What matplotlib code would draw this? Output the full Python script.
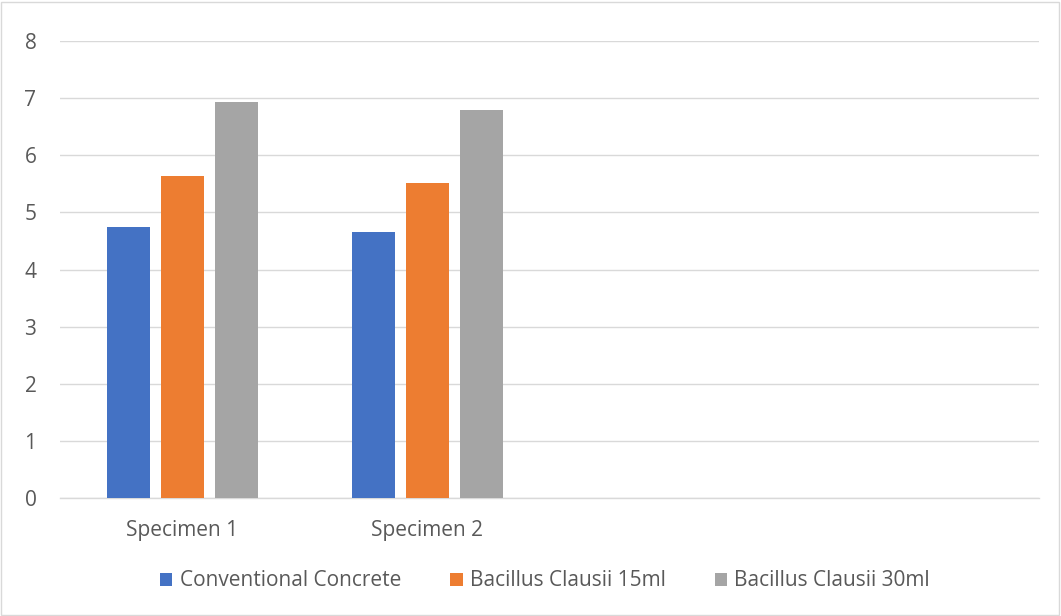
import matplotlib
matplotlib.use("Agg")
import matplotlib.pyplot as plt
import numpy as np
from matplotlib.patches import Rectangle

categories = ["Specimen 1", "Specimen 2", "", ""]
series_names = ["Conventional Concrete", "Bacillus Clausii 15ml", "Bacillus Clausii 30ml"]
conventional = [4.75, 4.66, None, None]
clausii_15 = [5.64, 5.51, None, None]
clausii_30 = [6.93, 6.80, None, None]
colors = ["#4472C4", "#ED7D31", "#A5A5A5"]

plt.rcParams['font.family'] = ['Open Sans', 'DejaVu Sans']

W, H = 1061, 616
fig = plt.figure(figsize=(W / 100, H / 100), dpi=100)
ax = fig.add_axes([60 / W, 1 - 498 / H, (1039 - 60) / W, (498 - 41) / H])

# outer chart border
fig.patches.append(Rectangle((1 / W, 1 / H), 1 - 3 / W, 1 - 3 / H, transform=fig.transFigure,
                             fill=False, edgecolor="#D9D9D9", linewidth=1))

x = np.arange(len(categories))
bw = 43 / 245
step = 54 / 245
all_series = [conventional, clausii_15, clausii_30]
for i, (vals, name, c) in enumerate(zip(all_series, series_names, colors)):
    xs = [xi + (i - 1) * step for xi, v in zip(x, vals) if v is not None]
    vs = [v for v in vals if v is not None]
    ax.bar(xs, vs, width=bw, color=c, label=name, zorder=3)

ax.set_xlim(-0.5, len(categories) - 0.5)
ax.set_ylim(0, 8)
ax.set_yticks(range(0, 9))
ax.set_xticks(x)
ax.set_xticklabels(categories)
ax.yaxis.grid(True, color="#D9D9D9", linewidth=1, zorder=0)
ax.set_axisbelow(True)
for s in ["top", "right", "left"]:
    ax.spines[s].set_visible(False)
ax.spines["bottom"].set_color("#D9D9D9")
ax.spines["bottom"].set_linewidth(1)
ax.tick_params(axis="both", length=0, labelsize=15, labelcolor="#595959")
ax.tick_params(axis="y", pad=17)
ax.tick_params(axis="x", pad=16)

leg = fig.legend(loc="center", bbox_to_anchor=(545 / W, 1 - 581 / H), ncol=3, frameon=False,
                 prop={'size': 15}, handlelength=0.6, handleheight=0.6, handletextpad=0.35,
                 columnspacing=2.35, labelcolor="#595959")

fig.savefig("out.png", dpi=100)
